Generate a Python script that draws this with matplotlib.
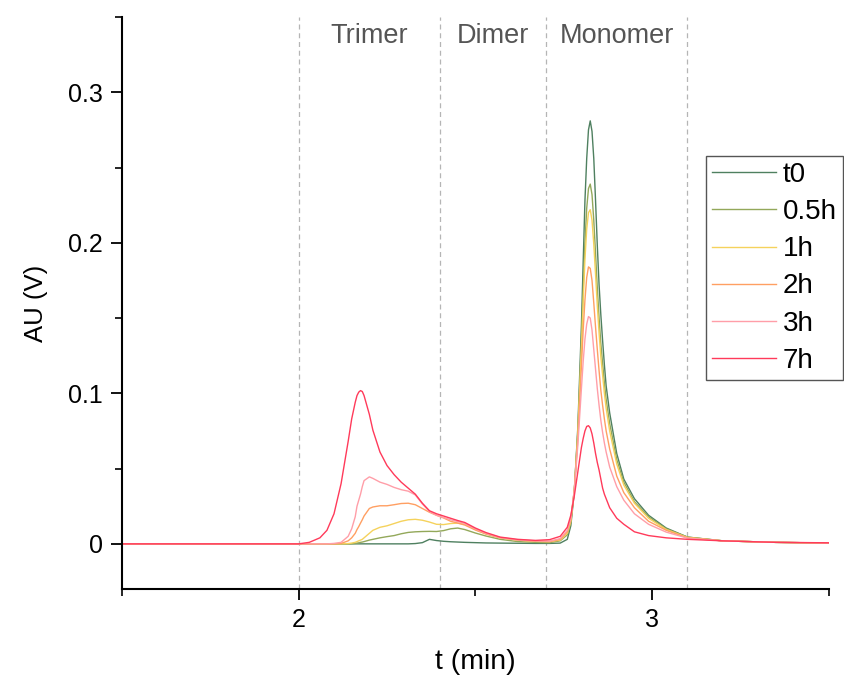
import matplotlib
matplotlib.use("Agg")
import matplotlib.pyplot as plt
from matplotlib.ticker import MultipleLocator, FuncFormatter

plt.rcParams["font.family"] = ["Liberation Sans", "DejaVu Sans"]

# retention time grid (min), denser around the peaks
t = [1.50, 2.00, 2.03, 2.06, 2.08, 2.10, 2.12, 2.14, 2.15, 2.16,
     2.165, 2.17, 2.175, 2.18, 2.185, 2.20, 2.21, 2.23, 2.25, 2.27,
     2.29, 2.31, 2.33, 2.35, 2.37, 2.39, 2.41, 2.43, 2.45, 2.47,
     2.50, 2.53, 2.57, 2.62, 2.67, 2.71, 2.74, 2.76, 2.77, 2.78,
     2.79, 2.80, 2.805, 2.81, 2.815, 2.82, 2.825, 2.83, 2.835, 2.84,
     2.845, 2.85, 2.855, 2.86, 2.865, 2.87, 2.88, 2.90, 2.92, 2.95,
     2.99, 3.04, 3.10, 3.20, 3.35, 3.50]

au_t0 = [0, 0, 0, 0, 0, 0, 0, 0, 0, 0,
         0, 0, 0, 0, 0, 0, 0, 0, 0, 0,
         0, 0, 0.0002, 0.0008, 0.003, 0.0022, 0.0017, 0.0014, 0.0012, 0.001,
         0.0008, 0.0006, 0.0005, 0.0004, 0.0003, 0.0003, 0.0005, 0.003, 0.012, 0.035,
         0.078, 0.145, 0.187, 0.228, 0.256, 0.275, 0.281, 0.274, 0.256, 0.228,
         0.198, 0.172, 0.152, 0.135, 0.119, 0.105, 0.087, 0.060, 0.043, 0.030,
         0.019, 0.0105, 0.0045, 0.002, 0.001, 0.0005]

au_05h = [0, 0, 0, 0, 0, 0, 0, 0, 0.0001, 0.0003,
          0.0005, 0.0007, 0.001, 0.0012, 0.0015, 0.0025, 0.003, 0.004, 0.0048, 0.0055,
          0.0067, 0.0076, 0.008, 0.0082, 0.0083, 0.0082, 0.0088, 0.0100, 0.0105, 0.0095,
          0.0072, 0.0052, 0.003, 0.0015, 0.001, 0.0008, 0.002, 0.006, 0.014, 0.036,
          0.075, 0.135, 0.169, 0.200, 0.223, 0.236, 0.239, 0.232, 0.215, 0.193,
          0.170, 0.150, 0.133, 0.120, 0.107, 0.096, 0.080, 0.056, 0.041, 0.028,
          0.018, 0.010, 0.0045, 0.002, 0.001, 0.0005]

au_1h = [0, 0, 0, 0, 0, 0, 0, 0.0002, 0.0005, 0.001,
         0.0015, 0.002, 0.0025, 0.003, 0.004, 0.007, 0.009, 0.011, 0.012, 0.0135,
         0.015, 0.016, 0.0163, 0.0157, 0.0145, 0.013, 0.0128, 0.0135, 0.0138, 0.013,
         0.0095, 0.0066, 0.004, 0.0025, 0.0017, 0.0015, 0.0025, 0.007, 0.015, 0.036,
         0.074, 0.130, 0.161, 0.189, 0.209, 0.220, 0.222, 0.215, 0.199, 0.179,
         0.158, 0.140, 0.124, 0.112, 0.100, 0.090, 0.075, 0.053, 0.039, 0.027,
         0.017, 0.0095, 0.0043, 0.002, 0.001, 0.0005]

au_2h = [0, 0, 0, 0, 0, 0, 0.0003, 0.002, 0.004, 0.007,
         0.0095, 0.0115, 0.0138, 0.016, 0.0185, 0.0235, 0.0245, 0.0253, 0.0253, 0.026,
         0.0268, 0.027, 0.026, 0.0235, 0.021, 0.019, 0.0172, 0.015, 0.0138, 0.0125,
         0.0092, 0.0065, 0.004, 0.0025, 0.0017, 0.0015, 0.003, 0.008, 0.016, 0.036,
         0.070, 0.118, 0.142, 0.162, 0.177, 0.184, 0.183, 0.175, 0.160, 0.144,
         0.129, 0.115, 0.102, 0.092, 0.083, 0.075, 0.063, 0.045, 0.034, 0.024,
         0.015, 0.009, 0.004, 0.002, 0.001, 0.0005]

au_3h = [0, 0, 0, 0, 0, 0.0003, 0.001, 0.005, 0.010, 0.018,
         0.025, 0.029, 0.033, 0.038, 0.042, 0.0445, 0.0435, 0.041, 0.0395, 0.0375,
         0.036, 0.035, 0.0325, 0.0265, 0.0215, 0.019, 0.0175, 0.016, 0.0148, 0.0135,
         0.010, 0.007, 0.0042, 0.0027, 0.002, 0.0018, 0.0035, 0.009, 0.017, 0.036,
         0.066, 0.103, 0.121, 0.136, 0.146, 0.151, 0.150, 0.142, 0.129, 0.116,
         0.103, 0.092, 0.082, 0.074, 0.067, 0.061, 0.051, 0.038, 0.029, 0.020,
         0.013, 0.0078, 0.0038, 0.002, 0.001, 0.0006]

au_7h = [0, 0, 0.001, 0.004, 0.009, 0.020, 0.040, 0.068, 0.083, 0.094,
         0.0985, 0.1008, 0.1018, 0.1012, 0.0985, 0.086, 0.0755, 0.061, 0.052, 0.046,
         0.041, 0.037, 0.033, 0.027, 0.022, 0.020, 0.0185, 0.017, 0.0155, 0.0142,
         0.0105, 0.0075, 0.0045, 0.003, 0.0023, 0.0028, 0.005, 0.011, 0.019, 0.032,
         0.048, 0.064, 0.070, 0.075, 0.078, 0.0785, 0.077, 0.073, 0.067, 0.060,
         0.054, 0.049, 0.043, 0.037, 0.033, 0.030, 0.024, 0.017, 0.013, 0.008,
         0.0055, 0.004, 0.003, 0.002, 0.001, 0.0007]

labels = ["t0", "0.5h", "1h", "2h", "3h", "7h"]
series = [au_t0, au_05h, au_1h, au_2h, au_3h, au_7h]
colors = ["#4f8060", "#93a85a", "#f5d25c", "#ff9f62", "#ff9ea8", "#ff3a5a"]

# fraction boundaries and names
bounds = [2.0, 2.4, 2.7, 3.1]
regions = ["Trimer", "Dimer", "Monomer"]
region_x = [2.2, 2.55, 2.9]

fig = plt.figure(figsize=(8.44, 6.8), dpi=100)
ax = fig.add_axes([0.1445, 0.1338, 0.8375, 0.8412])

for b in bounds:
    ax.axvline(b, color="#b5b5b5", lw=0.9, ls=(0, (4, 3)), zorder=1)

for name, xc in zip(regions, region_x):
    ax.text(xc, 0.3375, name, ha="center", va="center", fontsize=19.5, color="#555555")

for y, c, lab in zip(series, colors, labels):
    ax.plot(t, y, color=c, lw=1.0, label=lab, zorder=2)

ax.set_xlim(1.5, 3.5)
ax.set_ylim(-0.03, 0.35)
ax.xaxis.set_major_locator(MultipleLocator(1))
ax.xaxis.set_minor_locator(MultipleLocator(0.5))
ax.yaxis.set_major_locator(MultipleLocator(0.1))
ax.yaxis.set_minor_locator(MultipleLocator(0.05))
ax.yaxis.set_major_formatter(FuncFormatter(lambda v, p: f"{v:g}"))

for side in ["top", "right"]:
    ax.spines[side].set_visible(False)
for side in ["left", "bottom"]:
    ax.spines[side].set_linewidth(1.5)

ax.tick_params(which="major", direction="out", length=8, width=1.3, labelsize=18, pad=6)
ax.tick_params(which="minor", direction="out", length=5, width=1.2)

ax.set_xlabel("t (min)", fontsize=20.5, labelpad=12)
ax.set_ylabel("AU (V)", fontsize=18.5, labelpad=14)

leg = ax.legend(loc="upper left", bbox_to_anchor=(0.8365, 0.7706),
                bbox_transform=fig.transFigure, fontsize=20, frameon=True,
                fancybox=False, framealpha=1, edgecolor="#555555",
                handlelength=2.3, handletextpad=0.25, labelspacing=0.4,
                borderpad=0.22, borderaxespad=0)
leg.get_frame().set_linewidth(1.0)

fig.savefig("out.png", dpi=100)
